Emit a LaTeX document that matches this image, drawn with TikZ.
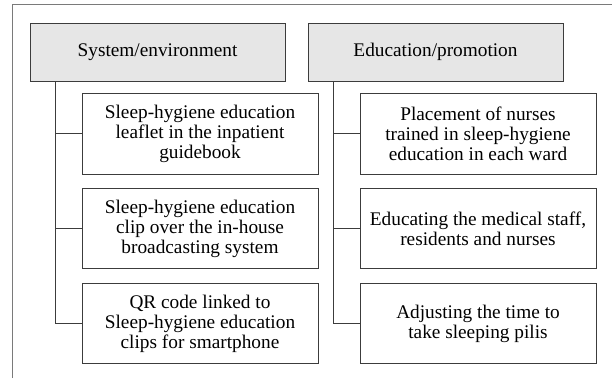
\documentclass[tikz,border=0pt]{standalone}
\usepackage{fontspec}
\setmainfont{Liberation Serif}
\usetikzlibrary{positioning}
\definecolor{boxline}{HTML}{3C3C3C}
\definecolor{framegray}{HTML}{7A7A7A}
\definecolor{headfill}{HTML}{E6E6E6}

\begin{document}
\begin{tikzpicture}[
    x=1pt, y=1pt,
    head/.style={draw=boxline, fill=headfill, minimum width=255pt, minimum height=58pt, line width=0.9pt},
    item/.style={draw=boxline, fill=white, minimum width=236pt, minimum height=80pt, align=center, inner sep=2pt, line width=0.9pt},
    link/.style={draw=boxline, line width=0.9pt},
    frame/.style={draw=framegray, line width=0.9pt},
    every node/.style={font=\fontsize{19.3}{20}\selectfont},
    ]
    \useasboundingbox (0,0) rectangle (612,-378);
    \draw[frame] (12,-378) -- (12,-4) -- (612,-4);

    \node[head] (sys) at (157.5,-52) {System/environment};
    \node[head] (edu) at (435.5,-52) {Education/promotion};

    \node[item, minimum height=81pt] (s1) at (200,-133.5) {Sleep-hygiene education\\leaflet in the inpatient\\guidebook};
    \node[item, below=14pt of s1] (s2) {Sleep-hygiene education\\clip over the in-house\\broadcasting system};
    \node[item, below=14pt of s2] (s3) {QR code linked to\\Sleep-hygiene education\\clips for smartphone};

    \node[item, minimum height=81pt] (e1) at (478,-133.5) {Placement of nurses\\trained in sleep-hygiene\\education in each ward};
    \node[item, below=14pt of e1] (e2) {Educating the medical staff,\\residents and nurses};
    \node[item, below=14pt of e2] (e3) {Adjusting the time to\\take sleeping pilis};

    \coordinate (sj) at ([xshift=26pt]sys.south west);
    \coordinate (ej) at ([xshift=26pt]edu.south west);
    \foreach \n in {s1,s2,s3}
        \draw[link] (sj) |- (\n.west);
    \foreach \n in {e1,e2,e3}
        \draw[link] (ej) |- (\n.west);
\end{tikzpicture}
\end{document}
